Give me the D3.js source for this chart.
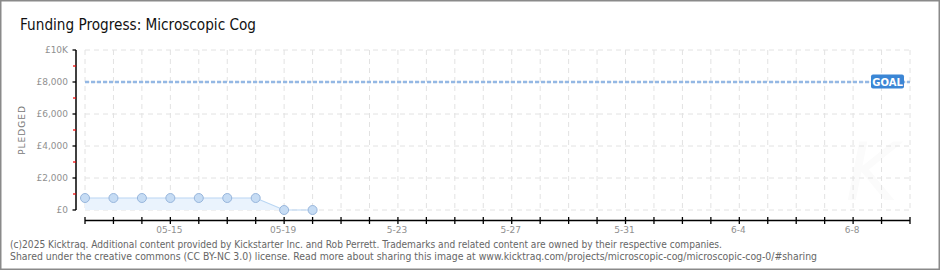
<html>
<head>
    <style>
        body { margin: 0; background: #fff; }
        text { font-family: "DejaVu Sans", sans-serif; }
    </style>
    <script src="https://cdn.jsdelivr.net/npm/d3@7"></script>
</head>
<body>
    <svg id="container" width="940" height="270"></svg>
</body>
<script>
    // data
    let dates = ["2025-05-12","2025-05-13","2025-05-14","2025-05-15","2025-05-16",
                 "2025-05-17","2025-05-18","2025-05-19","2025-05-20"]
    let pledged = [750, 750, 750, 750, 750, 750, 750, 0, 0]
    let goal = 8000
    let xStart = "2025-05-12"
    let xEnd = "2025-06-10"
    let xLabelDates = ["2025-05-15","2025-05-19","2025-05-23","2025-05-27","2025-05-31","2025-06-04","2025-06-08"]
    let xLabelTexts = ["05-15","05-19","5-23","5-27","5-31","6-4","6-8"]
    let yMajor = [0, 2000, 4000, 6000, 8000, 10000]
    let yMinor = [1000, 3000, 5000, 7000, 9000]
    let yLabels = ["£0","£2,000","£4,000","£6,000","£8,000","£10K"]

    let svg = d3.select("#container")
    let parse = d3.timeParse("%Y-%m-%d")

    let data = dates.map((d, i) => ({ date: parse(d), value: pledged[i] }))

    let x = d3.scaleTime()
        .domain([parse(xStart), parse(xEnd)])
        .range([85, 910])
    let y = d3.scaleLinear()
        .domain([0, 10000])
        .range([210, 50])

    // frame
    svg.append("rect")
        .attr("x", 0.75).attr("y", 0.75)
        .attr("width", 938.5).attr("height", 268.5)
        .attr("fill", "#fff")
        .attr("stroke", "#8a8a8a")
        .attr("stroke-width", 1.5)

    // title
    svg.append("text")
        .attr("x", 20).attr("y", 30)
        .attr("font-size", 16)
        .attr("fill", "#111")
        .attr("textLength", 236)
        .attr("lengthAdjust", "spacingAndGlyphs")
        .text("Funding Progress: Microscopic Cog")

    // watermark
    svg.append("text")
        .attr("x", 872).attr("y", 200)
        .attr("text-anchor", "middle")
        .attr("font-size", 80)
        .attr("font-style", "italic")
        .attr("fill", "#fbfbfb")
        .text("K")

    // grid
    let days = d3.timeDay.range(parse(xStart), d3.timeDay.offset(parse(xEnd), 1))
    svg.append("g").selectAll("line")
        .data(days)
        .enter().append("line")
        .attr("x1", d => x(d)).attr("x2", d => x(d))
        .attr("y1", 50).attr("y2", 210)
        .attr("stroke", "#e2e2e2")
        .attr("stroke-dasharray", "5,4")
    svg.append("g").selectAll("line")
        .data(yMajor)
        .enter().append("line")
        .attr("x1", 85).attr("x2", 910)
        .attr("y1", d => y(d)).attr("y2", d => y(d))
        .attr("stroke", "#e2e2e2")
        .attr("stroke-dasharray", "5,4")

    // area + line
    let area = d3.area()
        .x(d => x(d.date))
        .y0(y(0))
        .y1(d => y(d.value))
    svg.append("path")
        .datum(data)
        .attr("d", area)
        .attr("fill", "#eaf3fd")
    let line = d3.line()
        .x(d => x(d.date))
        .y(d => y(d.value))
    svg.append("path")
        .datum(data)
        .attr("d", line)
        .attr("fill", "none")
        .attr("stroke", "#b9d6f3")
        .attr("stroke-width", 1.2)

    // goal line
    svg.append("line")
        .attr("x1", 85).attr("x2", 910)
        .attr("y1", y(goal)).attr("y2", y(goal))
        .attr("stroke", "#94b8e4")
        .attr("stroke-width", 2.5)
        .attr("stroke-dasharray", "4,2")

    svg.append("g").selectAll("circle")
        .data(data)
        .enter().append("circle")
        .attr("cx", d => x(d.date))
        .attr("cy", d => y(d.value))
        .attr("r", 4.5)
        .attr("fill", "#c6dcf4")
        .attr("stroke", "#98b6dc")
        .attr("stroke-width", 1)

    // goal label
    svg.append("rect")
        .attr("x", 871).attr("y", 74.5)
        .attr("width", 33).attr("height", 14)
        .attr("rx", 2)
        .attr("fill", "#3b86d5")
    svg.append("text")
        .attr("x", 887.5).attr("y", 85.5)
        .attr("text-anchor", "middle")
        .attr("font-size", 10)
        .attr("font-weight", "bold")
        .attr("fill", "#fff")
        .text("GOAL")

    // y axis
    svg.append("line")
        .attr("x1", 76).attr("x2", 76)
        .attr("y1", 50).attr("y2", 210)
        .attr("stroke", "#000").attr("stroke-width", 1.5)
    svg.append("g").selectAll("line")
        .data(yMajor)
        .enter().append("line")
        .attr("x1", 72.5).attr("x2", 76)
        .attr("y1", d => y(d)).attr("y2", d => y(d))
        .attr("stroke", "#000").attr("stroke-width", 1.3)
    svg.append("g").selectAll("line")
        .data(yMinor)
        .enter().append("line")
        .attr("x1", 73).attr("x2", 76)
        .attr("y1", d => y(d)).attr("y2", d => y(d))
        .attr("stroke", "#e00").attr("stroke-width", 1.2)
    svg.append("g").selectAll("text")
        .data(yMajor)
        .enter().append("text")
        .attr("x", 68)
        .attr("y", d => y(d) + 3)
        .attr("text-anchor", "end")
        .attr("font-size", 9)
        .attr("fill", "#909090")
        .text((d, i) => yLabels[i])

    svg.append("text")
        .attr("transform", "translate(25,130) rotate(-90)")
        .attr("text-anchor", "middle")
        .attr("font-size", 9)
        .attr("letter-spacing", 1)
        .attr("fill", "#777")
        .text("PLEDGED")

    // x axis
    svg.append("line")
        .attr("x1", x(parse(xStart))).attr("x2", x(parse(xEnd)))
        .attr("y1", 220.5).attr("y2", 220.5)
        .attr("stroke", "#000").attr("stroke-width", 1.5)
    svg.append("g").selectAll("line")
        .data(days)
        .enter().append("line")
        .attr("x1", d => x(d)).attr("x2", d => x(d))
        .attr("y1", 217).attr("y2", 224)
        .attr("stroke", "#000").attr("stroke-width", 1.3)
    svg.append("g").selectAll("text")
        .data(xLabelDates)
        .enter().append("text")
        .attr("x", d => x(parse(d)) - 1)
        .attr("y", 233)
        .attr("text-anchor", "middle")
        .attr("font-size", 9)
        .attr("fill", "#909090")
        .text((d, i) => xLabelTexts[i])

    // footer
    svg.append("text")
        .attr("x", 10).attr("y", 248)
        .attr("font-size", 10)
        .attr("fill", "#666")
        .attr("textLength", 712)
        .attr("lengthAdjust", "spacingAndGlyphs")
        .text("(c)2025 Kicktraq. Additional content provided by Kickstarter Inc. and Rob Perrett. Trademarks and related content are owned by their respective companies.")
    svg.append("text")
        .attr("x", 10).attr("y", 260)
        .attr("font-size", 10)
        .attr("fill", "#666")
        .attr("textLength", 807)
        .attr("lengthAdjust", "spacingAndGlyphs")
        .text("Shared under the creative commons (CC BY-NC 3.0) license. Read more about sharing this image at www.kicktraq.com/projects/microscopic-cog/microscopic-cog-0/#sharing")
</script>
</html>
